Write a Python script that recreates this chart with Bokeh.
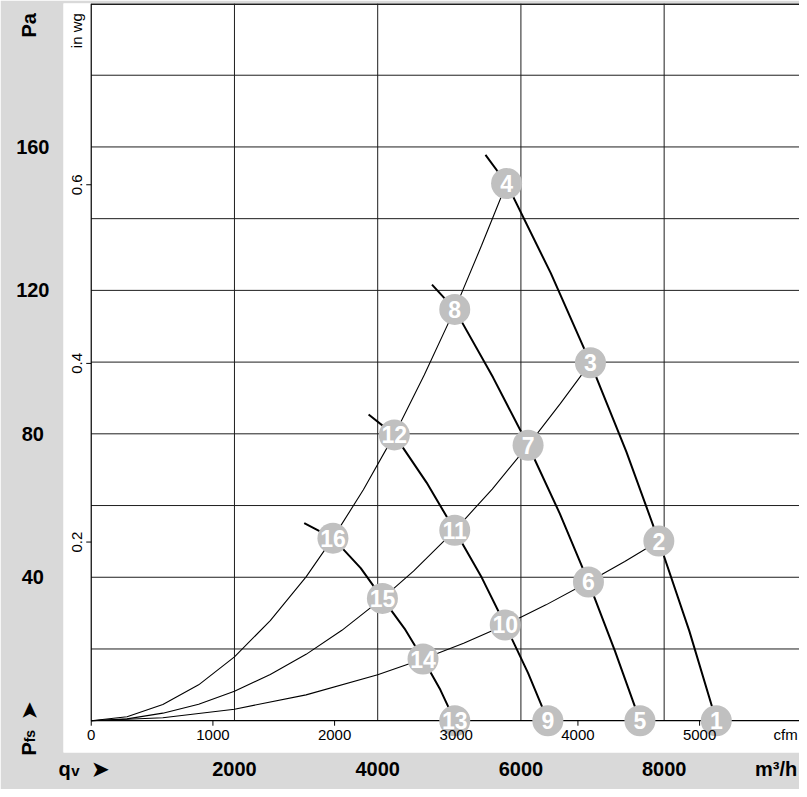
import math
from bokeh.plotting import figure
from bokeh.models import LinearAxis, Range1d, FixedTicker, BoxAnnotation
from bokeh.core.properties import value
from bokeh.embed import file_html
from bokeh.resources import INLINE

# ---------------- data (flow in m³/h, static pressure in Pa) ----------------
PA_PER_INWG = 249.089
M3H_PER_CFM = 1.699

q_grid = [2000, 4000, 6000, 8000]
pa_grid = [20, 40, 60, 80, 100, 120, 140, 160, 180]

pa_ticks = [40, 80, 120, 160]
pa_tick_labels = ["40\u00a0", "80\u00a0", "120", "160"]
m3h_ticks = [2000, 4000, 6000, 8000]
cfm_ticks = [0, 1000, 2000, 3000, 4000, 5000]
inwg_ticks = [0.2, 0.4, 0.6]
inwg_tick_labels = ["0.2", "0.4", "0.6"]

# fan characteristic curves (one per speed step)
curve_a_q = [5505, 5800, 6417, 6971, 7473, 7926, 8351, 8728]
curve_a_p = [157.8, 149.8, 124.8, 99.8, 74.95, 50.1, 25.05, 0]
curve_b_q = [4758, 5076, 5610, 6100, 6543, 6943, 7315, 7662]
curve_b_p = [121.6, 114.7, 95.75, 76.8, 57.75, 38.7, 19.35, 0]
curve_c_q = [3873, 4232, 4683, 5076, 5453, 5781, 6099, 6376]
curve_c_p = [85.4, 79.7, 66.4, 53.1, 39.9, 26.7, 13.35, 0]
curve_d_q = [2974, 3375, 3763, 4066, 4375, 4633, 4875, 5076]
curve_d_p = [55.1, 50.9, 42.55, 34.1, 25.7, 17.2, 8.6, 0]

# system curves (from origin)
sys1_q = [0, 500, 1000, 1500, 2000, 2500, 3000, 3375, 3800, 4232, 4650, 5076, 5450, 5800]
sys1_p = [0, 1.1, 4.5, 10.0, 17.8, 27.9, 40.1, 50.9, 64.4, 79.7, 96.4, 114.7, 132.5, 149.8]
sys2_q = [0, 500, 1000, 1500, 2000, 2500, 3000, 3500, 4066, 4500, 5076, 5600, 6100, 6550, 6971]
sys2_p = [0, 0.5, 2.1, 4.6, 8.2, 12.9, 18.5, 25.2, 34.1, 41.7, 53.1, 64.6, 76.8, 88.4, 99.8]
sys3_q = [0, 1000, 2000, 3000, 4000, 4633, 5200, 5781, 6350, 6943, 7450, 7926]
sys3_p = [0, 0.8, 3.2, 7.2, 12.8, 17.2, 21.6, 26.7, 32.3, 38.7, 44.4, 50.1]

# numbered operating points
pt_label = ["1", "2", "3", "4", "5", "6", "7", "8", "9", "10", "11", "12", "13", "14", "15", "16"]
pt_q = [8728, 7926, 6971, 5800, 7662, 6943, 6100, 5076, 6376, 5781, 5076, 4232, 5076, 4633, 4066, 3375]
pt_p = [0, 50.1, 99.8, 149.8, 0, 38.7, 76.8, 114.7, 0, 26.7, 53.1, 79.7, 0, 17.2, 34.1, 50.9]

# captions placed as tick labels: (position, text)
INWG_UNIT_POS = 0.7725
CFM_UNIT_POS = 5707
bottom_pos = [-373, 124] + m3h_ticks + [9563]
bottom_txt = ["q", "\u27a4"] + [str(t) for t in m3h_ticks] + ["m³/h"]
bottom_sub_pos = [-221]
bottom_sub_txt = ["v"]
left_caption_pos = [193.9, 2.76, -7.87]
left_caption_txt = ["Pa", "\u27a4", "P"]
left_sub_pos = [-4.29]
left_sub_txt = ["fs"]

# ---------------- figure ----------------
X_START = -387.3
X_END = 9890
Y_START = -8.87
Y_END = 200
FONT = "Liberation Sans"
GRAY = "#d9d9d9"
PX = (X_END - X_START) / 736.0   # m³/h per pixel

p = figure(width=799, height=789, output_backend="svg", toolbar_location=None,
           x_range=Range1d(X_START, X_END), y_range=Range1d(Y_START, Y_END),
           x_axis_location=None, y_axis_location=None,
           min_border_left=63, min_border_right=0, min_border_top=3, min_border_bottom=37)
p.border_fill_color = GRAY
p.background_fill_color = "white"
p.outline_line_color = None
p.extra_x_ranges = {"cfm": Range1d(X_START / M3H_PER_CFM, X_END / M3H_PER_CFM)}
p.extra_y_ranges = {"inwg": Range1d(Y_START / PA_PER_INWG, Y_END / PA_PER_INWG)}
p.grid.visible = False

# white outer page margin (left and top)
for l, r, b, t in [(-3000, -1211, -60, 300), (-3000, 13000, Y_END, 300)]:
    p.add_layout(BoxAnnotation(left=l, right=r, bottom=b, top=t, fill_color="white",
                               fill_alpha=1.0, line_color=None, level="image"))

# grid, chart border and scale tick marks
p.segment(x0=q_grid, y0=0, x1=q_grid, y1=Y_END, line_color="#1e1e1e", line_width=1)
p.segment(x0=0, y0=pa_grid, x1=X_END, y1=pa_grid, line_color="#1e1e1e", line_width=1)
p.segment(x0=[0], y0=[Y_END], x1=[X_END], y1=[Y_END], line_color="#1e1e1e", line_width=3)
p.segment(x0=[0], y0=[0], x1=[X_END], y1=[0], line_color="black", line_width=1.2)
p.segment(x0=[0], y0=[0], x1=[0], y1=[Y_END], line_color="black", line_width=1.2)
p.segment(x0=0, y0=[t * PA_PER_INWG for t in inwg_ticks], x1=-5 * PX,
          y1=[t * PA_PER_INWG for t in inwg_ticks], line_color="black", line_width=1)
p.segment(x0=[c * M3H_PER_CFM for c in cfm_ticks], y0=0,
          x1=[c * M3H_PER_CFM for c in cfm_ticks], y1=-1.4, line_color="black", line_width=1)


def plain(ax, size, standoff, bold=False):
    ax.axis_line_color = None
    ax.major_tick_line_color = None
    ax.minor_tick_line_color = None
    ax.major_tick_out = 0
    ax.major_tick_in = 0
    ax.minor_tick_out = 0
    ax.minor_tick_in = 0
    ax.major_label_text_font = FONT
    ax.major_label_text_color = "black"
    ax.major_label_text_font_size = size
    ax.major_label_standoff = standoff
    if bold:
        ax.major_label_text_font_style = "bold"


def pad(ax, size):
    ax.axis_label = "\u00a0"
    ax.axis_label_text_font_size = size
    ax.axis_label_text_alpha = 0
    ax.axis_label_standoff = 0


# ---- left side ----
ax_inwg = LinearAxis(y_range_name="inwg",
                     ticker=FixedTicker(ticks=inwg_ticks + [INWG_UNIT_POS]),
                     major_label_overrides={**dict(zip(inwg_ticks, inwg_tick_labels)), INWG_UNIT_POS: "in wg"},
                     major_label_orientation="vertical")
plain(ax_inwg, "15px", -22)
p.add_layout(ax_inwg, "left")

ax_pa = LinearAxis(ticker=FixedTicker(ticks=pa_ticks),
                   major_label_overrides=dict(zip(pa_ticks, pa_tick_labels)))
plain(ax_pa, "20px", 14, bold=True)
p.add_layout(ax_pa, "left")

ax_cap_l = LinearAxis(ticker=FixedTicker(ticks=left_caption_pos),
                      major_label_overrides=dict(zip(left_caption_pos, left_caption_txt)),
                      major_label_orientation="vertical")
plain(ax_cap_l, "20px", -27, bold=True)
p.add_layout(ax_cap_l, "left")

ax_sub_l = LinearAxis(ticker=FixedTicker(ticks=left_sub_pos),
                      major_label_overrides=dict(zip(left_sub_pos, left_sub_txt)),
                      major_label_orientation="vertical")
plain(ax_sub_l, "14px", -25, bold=True)
p.add_layout(ax_sub_l, "left")

# ---- bottom side ----
ax_cfm = LinearAxis(x_range_name="cfm",
                    ticker=FixedTicker(ticks=cfm_ticks + [CFM_UNIT_POS]),
                    major_label_overrides={**{t: str(t) for t in cfm_ticks}, CFM_UNIT_POS: "cfm"})
plain(ax_cfm, "15px", -27)
pad(ax_cfm, "10px")
p.add_layout(ax_cfm, "below")

ax_m3h = LinearAxis(ticker=FixedTicker(ticks=bottom_pos),
                    major_label_overrides=dict(zip(bottom_pos, bottom_txt)))
plain(ax_m3h, "20px", -2, bold=True)
p.add_layout(ax_m3h, "below")

ax_sub_b = LinearAxis(ticker=FixedTicker(ticks=bottom_sub_pos),
                      major_label_overrides=dict(zip(bottom_sub_pos, bottom_sub_txt)))
plain(ax_sub_b, "15px", -21, bold=True)
p.add_layout(ax_sub_b, "below")

# ---- curves ----
for qs, ps in [(sys1_q, sys1_p), (sys2_q, sys2_p), (sys3_q, sys3_p)]:
    p.line(qs, ps, line_color="black", line_width=1.1)
for qs, ps in [(curve_a_q, curve_a_p), (curve_b_q, curve_b_p),
               (curve_c_q, curve_c_p), (curve_d_q, curve_d_p)]:
    p.line(qs, ps, line_color="black", line_width=2)

# ---- numbered points ----
p.scatter(pt_q, pt_p, size=31, fill_color="#c0c0c0", line_color=None)
p.text(pt_q, pt_p, text=pt_label, text_color="white", text_font=value(FONT),
       text_font_style="bold", text_font_size="23px", text_align="center", text_baseline="middle")

open("out.html", "w").write(file_html(p, INLINE))
